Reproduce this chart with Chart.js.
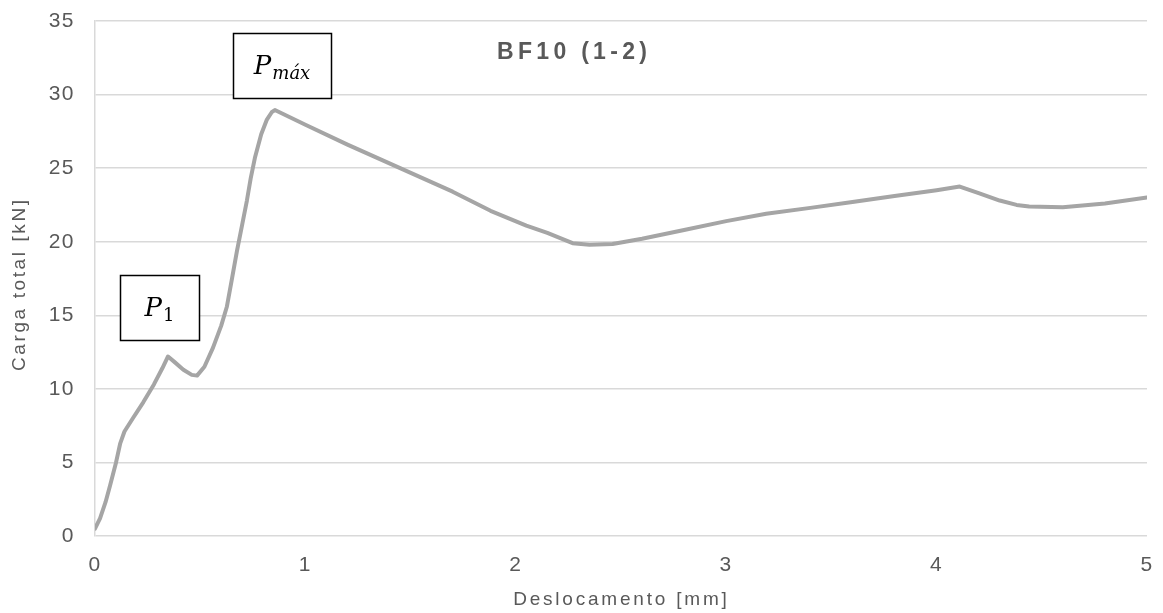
<!DOCTYPE html>
<html>
<head>
<meta charset="utf-8">
<script src="https://cdn.jsdelivr.net/npm/chart.js@4/dist/chart.umd.min.js"></script>
<style>
html,body{margin:0;padding:0;background:#fff;}
#wrap{width:1163px;height:613px;}
</style>
</head>
<body>
<div id="wrap"><canvas id="c" width="1163" height="613"></canvas></div>
<script>
const chartTitle = "BF10 (1-2)";
const xTitle = "Deslocamento [mm]";
const yTitle = "Carga total [kN]";
const displacement = [0,0.024,0.05,0.071,0.1,0.12,0.14,0.18,0.23,0.28,0.32,0.347,0.38,0.42,0.46,0.485,0.52,0.561,0.6,0.627,0.65,0.675,0.7,0.722,0.74,0.76,0.79,0.817,0.84,0.855,1.0,1.2,1.45,1.7,1.88,2.05,2.15,2.22,2.27,2.35,2.46,2.6,2.8,3.0,3.19,3.4,3.6,3.8,4.0,4.11,4.2,4.3,4.38,4.44,4.6,4.8,5.0];
const load = [0.5,1.2,2.3,3.4,5.0,6.3,7.1,8.0,9.1,10.3,11.4,12.2,11.8,11.3,10.95,10.9,11.5,12.8,14.3,15.6,17.4,19.4,21.2,22.8,24.3,25.7,27.3,28.3,28.8,28.95,27.95,26.6,25.0,23.4,22.1,21.1,20.6,20.2,19.9,19.8,19.85,20.2,20.8,21.4,21.9,22.3,22.7,23.1,23.5,23.75,23.3,22.8,22.5,22.4,22.35,22.6,23.0];
const xTicks = [0,1,2,3,4,5];
const yTicks = [0,5,10,15,20,25,30,35];
// annotation boxes in data coordinates [x0, x1, yTop, yBottom]
const labelMain = ["P", "máx"];
const labelMainBox = [0.656, 1.122, 34.17, 29.76];
const labelP1 = ["P", "1"];
const labelP1Box = [0.119, 0.494, 17.73, 13.3];
const titlePos = [2.267, 32.85];

const pts = displacement.map((x,i)=>({x:x,y:load[i]}));
const FONT = '"Liberation Sans", Arial, sans-serif';

function spacedText(ctx, text, x, y, spacing){
  ctx.letterSpacing = spacing + 'px';
  ctx.textAlign = 'center';
  ctx.fillText(text, x + spacing/2, y);
  ctx.letterSpacing = '0px';
}

const overlay = {
  id:'overlay',
  beforeDraw(chart){ chart.ctx.letterSpacing = '1.5px'; },
  afterDraw(chart){
    const ctx = chart.ctx, xs = chart.scales.x, ys = chart.scales.y, ca = chart.chartArea;
    ctx.letterSpacing = '0px';
    ctx.save();
    ctx.fillStyle = '#595959';
    ctx.textBaseline = 'middle';
    ctx.font = 'bold 23px ' + FONT;
    spacedText(ctx, chartTitle, xs.getPixelForValue(titlePos[0]), ys.getPixelForValue(titlePos[1]), 4.3);
    ctx.font = '19px ' + FONT;
    spacedText(ctx, xTitle, (ca.left+ca.right)/2 - 1, ca.bottom + 64, 2.8);
    ctx.save();
    ctx.translate(20, (ca.top+ca.bottom)/2 + 7);
    ctx.rotate(-Math.PI/2);
    ctx.font = '19px ' + FONT;
    spacedText(ctx, yTitle, 0, 0, 2.6);
    ctx.restore();
    function box(b, lab, subItalic){
      const x0 = xs.getPixelForValue(b[0]), x1 = xs.getPixelForValue(b[1]);
      const y0 = ys.getPixelForValue(b[2]), y1 = ys.getPixelForValue(b[3]);
      ctx.fillStyle = '#fff';
      ctx.fillRect(x0,y0,x1-x0,y1-y0);
      ctx.strokeStyle = '#000';
      ctx.lineWidth = 1.5;
      ctx.strokeRect(Math.round(x0)+0.5, Math.round(y0)+0.5, Math.round(x1-x0), Math.round(y1-y0));
      const fMain = 'italic 26px "DejaVu Serif", "Liberation Serif", serif';
      const fSub = (subItalic?'italic ':'') + '18px "DejaVu Serif", "Liberation Serif", serif';
      ctx.font = fMain; const w1 = ctx.measureText(lab[0]).width;
      ctx.font = fSub; const w2 = ctx.measureText(lab[1]).width;
      const cx = (x0+x1)/2, cy = (y0+y1)/2;
      const start = cx - (w1+w2+1)/2;
      ctx.fillStyle = '#000';
      ctx.textAlign = 'left';
      ctx.textBaseline = 'alphabetic';
      ctx.font = fMain; ctx.fillText(lab[0], start, cy+8);
      ctx.font = fSub; ctx.fillText(lab[1], start+w1+1, cy+13);
    }
    box(labelMainBox, labelMain, true);
    box(labelP1Box, labelP1, false);
    ctx.restore();
  }
};

new Chart(document.getElementById('c'), {
  type:'line',
  data:{datasets:[{
    data:pts,
    borderColor:'#A5A5A5',
    borderWidth:4,
    pointRadius:0,
    fill:false,
    tension:0,
    borderJoinStyle:'round',
    borderCapStyle:'round'
  }]},
  options:{
    responsive:false,
    animation:false,
    layout:{padding:{left:0,right:16,top:21,bottom:0}},
    plugins:{legend:{display:false},tooltip:{enabled:false},title:{display:false}},
    scales:{
      x:{
        type:'linear', min:0, max:5,
        afterBuildTicks(s){ s.ticks = xTicks.map(v=>({value:v})); },
        grid:{display:false},
        border:{display:false},
        ticks:{color:'#595959',font:{family:FONT,size:21},padding:9,maxRotation:0},
        afterFit(s){ s.height = 77; s.paddingLeft = 0; s.paddingRight = 0; }
      },
      y:{
        type:'linear', min:0, max:35,
        afterBuildTicks(s){ s.ticks = yTicks.map(v=>({value:v})); },
        grid:{color:'#D9D9D9',lineWidth:1.5,drawTicks:false},
        border:{display:true,color:'#D9D9D9',width:1.5},
        ticks:{color:'#595959',font:{family:FONT,size:21},padding:20},
        afterFit(s){ s.width = 95; s.paddingTop = 0; s.paddingBottom = 0; }
      }
    }
  },
  plugins:[overlay]
});
</script>
</body>
</html>
